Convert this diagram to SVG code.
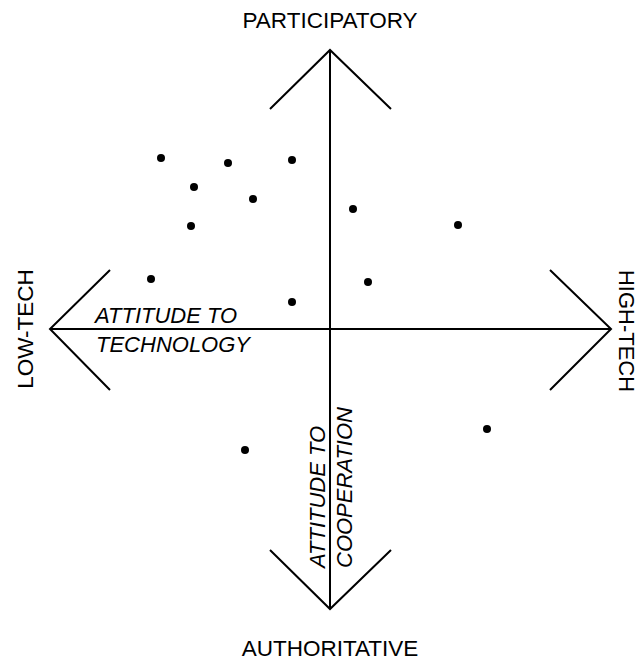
<svg xmlns="http://www.w3.org/2000/svg" width="638" height="661" viewBox="0 0 638 661">
<style>
.ax{stroke:#000;stroke-width:2;fill:none;stroke-linecap:butt;stroke-linejoin:miter}
.lbl{font-family:"Liberation Sans",Arial,sans-serif;font-size:22.5px;fill:#000}
.it{font-family:"Liberation Sans",Arial,sans-serif;font-size:22px;font-style:italic;fill:#000}
.dot{fill:#000}
</style>
<rect width="638" height="661" fill="#fff"/>
<g id="connectors">
<line class="ax" x1="330" y1="50" x2="330" y2="609"/>
<line class="ax" x1="50" y1="329" x2="611" y2="329"/>
<polyline class="ax" points="270,109 330,50 391,109"/>
<polyline class="ax" points="270,550 330,609 391,550"/>
<polyline class="ax" points="110,270 50,329 110,390"/>
<polyline class="ax" points="550,270 611,329 550,390"/>
</g>
<g id="participatory"><text class="lbl" x="330" y="28" text-anchor="middle">PARTICIPATORY</text></g>
<g id="authoritative"><text class="lbl" x="330" y="656" text-anchor="middle">AUTHORITATIVE</text></g>
<g id="low-tech"><text class="lbl" transform="translate(33,329) rotate(-90)" text-anchor="middle">LOW-TECH</text></g>
<g id="high-tech"><text class="lbl" style="font-size:22px" transform="translate(619,331) rotate(90)" text-anchor="middle">HIGH-TECH</text></g>
<g id="attitude-technology">
<text class="it" x="95" y="323">ATTITUDE TO</text>
<text class="it" x="96" y="352">TECHNOLOGY</text>
</g>
<g id="attitude-cooperation">
<text class="it" transform="translate(325,568) rotate(-90)">ATTITUDE TO</text>
<text class="it" transform="translate(352,568) rotate(-90)">COOPERATION</text>
</g>
<g id="points">
<circle class="dot" cx="161" cy="158" r="4"/>
<circle class="dot" cx="228" cy="163" r="4"/>
<circle class="dot" cx="292" cy="160" r="4"/>
<circle class="dot" cx="194" cy="187" r="4"/>
<circle class="dot" cx="253" cy="199" r="4"/>
<circle class="dot" cx="191" cy="226" r="4"/>
<circle class="dot" cx="353" cy="209" r="4"/>
<circle class="dot" cx="458" cy="225" r="4"/>
<circle class="dot" cx="151" cy="279" r="4"/>
<circle class="dot" cx="368" cy="282" r="4"/>
<circle class="dot" cx="292" cy="302" r="4"/>
<circle class="dot" cx="487" cy="429" r="4"/>
<circle class="dot" cx="245" cy="450" r="4"/>
</g>
</svg>
